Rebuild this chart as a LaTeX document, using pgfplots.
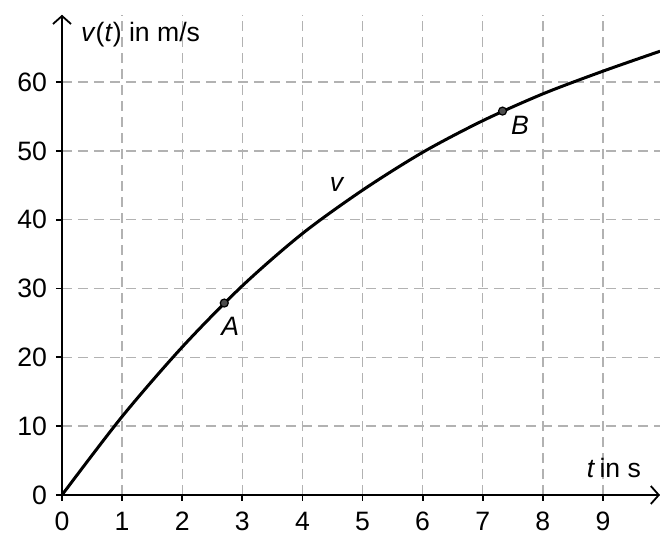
\documentclass[border=0pt]{standalone}
\usepackage{fontspec}
\setmainfont{Liberation Sans}
\usepackage{pgfplots}
\pgfplotsset{compat=1.18}
\usetikzlibrary{arrows.meta}
\begin{document}
\begin{tikzpicture}[font=\fontsize{13.3}{16}\selectfont]
\begin{axis}[
  x=30.05pt, y=3.44pt,
  xmin=0, xmax=9.95, ymin=0, ymax=69.8,
  axis lines=left,
  x axis line style={line width=0.9pt,-{Straight Barb[length=4pt,width=9pt,line width=0.9pt]}},
  y axis line style={line width=0.9pt,-{Straight Barb[length=4pt,width=9pt,line width=0.9pt]}},
  xtick={0,1,...,9}, ytick={0,10,...,60},
  tick align=outside, major tick length=3pt,
  tick style={line width=0.9pt, black},
  grid=major,
  major grid style={dash pattern=on 5pt off 3pt, black!30, line width=0.7pt},
  tick label style={font=\fontsize{13.3}{16}\selectfont},
  /pgf/number format/assume math mode=true,
  xticklabel style={yshift=-2pt},
  yticklabel style={xshift=-1pt},
  clip=false,
]
\coordinate (O) at (axis cs:0,0);
\addplot[smooth, line width=1.5pt, black] coordinates {
  (0,0) (1,11.4) (2,21.5) (3,30.4) (4,38.0) (5,44.3) (6,49.8) (7,54.4) (8,58.3) (9,61.6) (9.95,64.5)
};
\addplot[only marks, mark=*, mark size=2pt, mark options={fill=black!70, draw=black, line width=0.6pt}] coordinates {
  (2.7,27.9) (7.33,55.8)
};
\node[anchor=west] at (axis cs:0.2,66.9) {\textit{v}(\textit{t}) in m/s};
\node[anchor=east] at (axis cs:9.75,3.9) {\textit{t}\,in s};
\node at (axis cs:2.8,24.5) {\textit{A}};
\node at (axis cs:7.62,53.8) {\textit{B}};
\node at (axis cs:4.58,45.1) {\textit{v}};
\end{axis}
\pgfresetboundingbox
\path ([shift={(-31pt,-19.5pt)}]O) rectangle ([shift={(299pt,247.5pt)}]O);
\end{tikzpicture}
\end{document}
